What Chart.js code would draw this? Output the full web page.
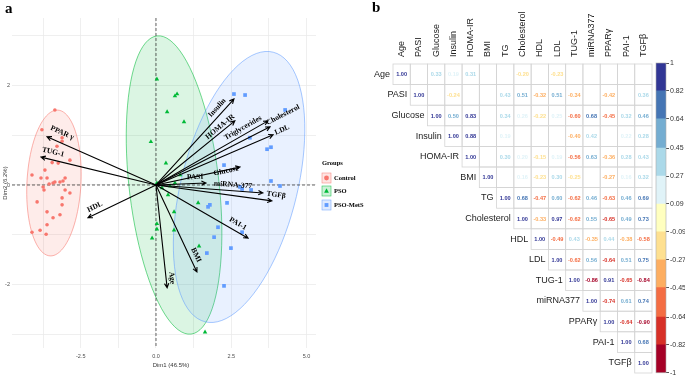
<!DOCTYPE html>
<html>
<head>
<meta charset="utf-8">
<script src="https://cdn.jsdelivr.net/npm/chart.js@4.4.0/dist/chart.umd.min.js"></script>
<style>
  body { margin: 0; background: #fff; }
  #wrap { position: relative; width: 685px; height: 378px; overflow: hidden; }
  canvas { position: absolute; top: 0; }
</style>
</head>
<body>
<div id="wrap">
  <canvas id="biplot" width="380" height="378" style="left:0"></canvas>
  <canvas id="corr" width="335" height="378" style="left:350px"></canvas>
  <canvas id="scale" width="40" height="378" style="left:645px"></canvas>
</div>
<script>
// ---- panel a: PCA biplot ----
const groupNames = ['Control', 'PSO', 'PSO-MetS'];
const groupColors = ['#F8766D', '#00BA38', '#619CFF'];

const controlX = [-3.36, -3.79, -3.12, -3.29, -2.86, -3.69, -4.12, -3.82, -3.62, -3.42, -3.36, -3.19, -3.09, -3.02, -3.75, -3.72, -3.02, -2.86, -3.12, -3.95, -3.12, -3.62, -3.19, -3.42, -3.62, -4.12, -3.85, -3.65, -3.55, -3.25, -3.12, -3.45];
const controlY = [1.51, 1.11, 0.95, 0.78, 0.50, 0.30, 0.20, 0.14, 0.14, 0.04, 0.06, 0.06, 0.08, 0.14, -0.04, -0.10, -0.10, -0.16, -0.26, -0.34, -0.40, -0.54, -0.60, -0.66, -0.80, -0.95, -0.91, -0.99, 0.02, 0.44, 0.88, 0.45];

const psoX = [0.03, 0.63, 0.70, 0.37, 0.93, -0.17, 0.33, 0.80, 0.63, 0.03, 0.40, 0.60, 1.40, 0.03, 0.03, -0.13, 0.60, 1.43, 1.63, 0.20, 0.47];
const psoY = [2.13, 1.79, 1.83, 1.47, 1.27, 0.87, 0.44, 0.20, 0.04, 0.04, -0.20, -0.54, -0.36, -0.78, -0.89, -1.07, -0.91, -1.23, -2.96, -0.06, -0.02];

const metsX = [2.59, 2.96, 4.29, 3.12, 3.69, 3.82, 2.26, 3.82, 4.12, 2.79, 2.86, 3.16, 2.36, 1.79, 1.73, 2.06, 1.93, 2.86, 2.49, 1.69, 2.26];
const metsY = [1.83, 1.81, 1.51, 0.95, 0.72, 0.76, 0.40, 0.08, -0.02, -0.04, -0.08, -0.10, -0.36, -0.40, -0.44, -0.85, -1.05, -0.95, -1.27, -1.37, -2.03];

// confidence ellipses: centre and two conjugate half-axes (data units)
const ellipseCenter = [[-3.39, 0.04], [0.60, 0.00], [2.76, -0.04]];
const ellipseAxisA = [[0.127, 1.467], [-0.565, 3.00], [1.133, 2.712]];
const ellipseAxisB = [[0.896, -0.028], [1.485, 0.103], [1.867, -0.286]];

// variable loadings (arrow tips) and where their labels sit
const loadNames = ['PPAR γ', 'TUG-1', 'HDL', 'Insulin', 'HOMA-IR', 'Triglycerides', 'Cholesterol', 'LDL', 'Glucose', 'PASI', 'miRNA-377', 'TGFβ', 'PAI-1', 'BMI', 'Age'];
const loadX = [-3.62, -3.82, -2.26, 2.59, 2.62, 3.72, 3.79, 3.89, 2.79, 1.66, 3.55, 3.85, 3.06, 1.36, 0.37];
const loadY = [0.97, 0.56, -0.66, 1.73, 1.29, 1.29, 1.17, 1.01, 0.36, 0.04, -0.16, -0.32, -1.07, -1.75, -2.07];
const labelX = [-3.12, -3.42, -2.03, 2.03, 2.13, 2.89, 4.22, 4.19, 2.33, 1.30, 2.56, 3.99, 2.72, 1.33, 0.53];
const labelY = [1.05, 0.66, -0.44, 1.55, 1.17, 1.15, 1.41, 1.11, 0.28, 0.16, 0.00, -0.20, -0.78, -1.41, -1.87];

const xGrid = [-3.75, -2.5, -1.25, 0, 1.25, 2.5, 3.75, 5];
const yGrid = [-3, -2, -1, 0, 1, 2, 3];
const xTickLabels = ['-2.5', '0.0', '2.5', '5.0'];
const xTickValues = [-2.5, 0, 2.5, 5];
const yTickLabels = ['2', '0', '-2'];
const yTickValues = [2, 0, -2];

// ---- panel b: correlation matrix ----
const vars = ['Age', 'PASI', 'Glucose', 'Insulin', 'HOMA-IR', 'BMI', 'TG', 'Cholesterol', 'HDL', 'LDL', 'TUG-1', 'miRNA377', 'PPARγ', 'PAI-1', 'TGFβ'];
// each row starts at the diagonal; null = blank cell
const corAge = [1.00, null, 0.33, 0.19, 0.31, null, null, -0.20, null, -0.23, null, null, null, null, null];
const corPASI = [1.00, null, -0.24, null, null, 0.43, 0.51, -0.32, 0.51, -0.34, null, -0.42, null, 0.36];
const corGlucose = [1.00, 0.50, 0.83, null, 0.34, 0.26, -0.22, 0.25, -0.60, 0.68, -0.45, 0.32, 0.46];
const corInsulin = [1.00, 0.88, null, 0.19, null, null, null, -0.40, 0.42, null, 0.22, 0.28];
const corHOMA = [1.00, null, 0.30, 0.20, -0.15, 0.19, -0.56, 0.63, -0.36, 0.28, 0.43];
const corBMI = [1.00, null, 0.16, -0.23, 0.30, -0.25, null, -0.27, 0.16, 0.32];
const corTG = [1.00, 0.68, -0.47, 0.60, -0.62, 0.46, -0.63, 0.46, 0.69];
const corChol = [1.00, -0.33, 0.97, -0.62, 0.55, -0.65, 0.49, 0.73];
const corHDL = [1.00, -0.49, 0.43, -0.35, 0.44, -0.38, -0.58];
const corLDL = [1.00, -0.62, 0.56, -0.64, 0.51, 0.75];
const corTUG = [1.00, -0.86, 0.91, -0.65, -0.84];
const corMiR = [1.00, -0.74, 0.61, 0.74];
const corPPAR = [1.00, -0.64, -0.90];
const corPAI = [1.00, 0.68];
const corTGF = [1.00];
const corRows = [corAge, corPASI, corGlucose, corInsulin, corHOMA, corBMI, corTG, corChol, corHDL, corLDL, corTUG, corMiR, corPPAR, corPAI, corTGF];

const breaks = [-1, -0.82, -0.64, -0.45, -0.27, -0.09, 0.09, 0.27, 0.45, 0.64, 0.82, 1];
const bandColors = ['#a50026', '#d73027', '#f46d43', '#fdae61', '#fee090', '#ffffbf', '#e0f3f8', '#abd9e9', '#74add1', '#4575b4', '#313695'];

function colorFor(v) {
  let k = 0;
  while (k < bandColors.length - 1 && v > breaks[k + 1]) k++;
  return bandColors[k];
}

function alpha(hex, a) {
  const n = parseInt(hex.slice(1), 16);
  return `rgba(${n >> 16},${(n >> 8) & 255},${n & 255},${a})`;
}

const serif = '"Liberation Serif", "DejaVu Serif", serif';
const sans = '"Liberation Sans", Arial, sans-serif';

function toPoints(xs, ys) { return xs.map((v, i) => ({x: v, y: ys[i]})); }

function drawMarker(ctx, k, x, y, r) {
  ctx.fillStyle = groupColors[k];
  ctx.beginPath();
  if (k === 0) ctx.arc(x, y, r, 0, Math.PI * 2);
  else if (k === 1) { ctx.moveTo(x, y - r * 1.1); ctx.lineTo(x + r, y + r * 0.7); ctx.lineTo(x - r, y + r * 0.7); ctx.closePath(); }
  else ctx.rect(x - r * 0.8, y - r * 0.8, r * 1.6, r * 1.6);
  ctx.fill();
}

const biplotDecor = {
  id: 'biplotDecor',
  beforeDatasetsDraw(chart) {
    const {ctx, scales: {x, y}, chartArea: a} = chart;
    ctx.save();
    groupNames.forEach((g, k) => {
      const [cx, cy] = ellipseCenter[k], [ux, uy] = ellipseAxisA[k], [vx, vy] = ellipseAxisB[k];
      ctx.beginPath();
      for (let s = 0; s <= 90; s++) {
        const t = s / 90 * Math.PI * 2;
        const px = x.getPixelForValue(cx + ux * Math.cos(t) + vx * Math.sin(t));
        const py = y.getPixelForValue(cy + uy * Math.cos(t) + vy * Math.sin(t));
        if (s) ctx.lineTo(px, py); else ctx.moveTo(px, py);
      }
      ctx.fillStyle = alpha(groupColors[k], 0.14);
      ctx.fill();
      ctx.strokeStyle = alpha(groupColors[k], 0.8);
      ctx.lineWidth = 0.7;
      ctx.stroke();
    });
    // zero lines
    ctx.setLineDash([3, 2]);
    ctx.strokeStyle = '#222';
    ctx.lineWidth = 0.7;
    const x0 = x.getPixelForValue(0), y0 = y.getPixelForValue(0);
    ctx.beginPath();
    ctx.moveTo(x0, a.top); ctx.lineTo(x0, a.bottom);
    ctx.moveTo(a.left, y0); ctx.lineTo(a.right, y0);
    ctx.stroke();
    ctx.restore();
  },
  afterDatasetsDraw(chart) {
    const {ctx, scales: {x, y}} = chart;
    const ox = x.getPixelForValue(0), oy = y.getPixelForValue(0);
    ctx.save();
    ctx.strokeStyle = '#000';
    ctx.fillStyle = '#000';
    ctx.lineWidth = 1.1;
    loadNames.forEach((name, i) => {
      const tx = x.getPixelForValue(loadX[i]), ty = y.getPixelForValue(loadY[i]);
      const ang = Math.atan2(ty - oy, tx - ox);
      ctx.beginPath();
      ctx.moveTo(ox, oy); ctx.lineTo(tx, ty);
      ctx.moveTo(tx - 5 * Math.cos(ang - 0.45), ty - 5 * Math.sin(ang - 0.45));
      ctx.lineTo(tx, ty);
      ctx.lineTo(tx - 5 * Math.cos(ang + 0.45), ty - 5 * Math.sin(ang + 0.45));
      ctx.stroke();
      let rot = ang;
      if (Math.cos(ang) < 0) rot += Math.PI;
      ctx.save();
      ctx.translate(x.getPixelForValue(labelX[i]), y.getPixelForValue(labelY[i]));
      ctx.rotate(rot);
      ctx.font = `bold 7.5px ${serif}`;
      ctx.textAlign = 'center';
      ctx.textBaseline = 'middle';
      ctx.fillText(name, 0, 0);
      ctx.restore();
    });
    ctx.restore();
  },
  afterDraw(chart) {
    const {ctx, scales: {x, y}, chartArea: a} = chart;
    ctx.save();
    ctx.fillStyle = '#000';
    ctx.font = `bold 15px ${serif}`;
    ctx.textAlign = 'left';
    ctx.textBaseline = 'alphabetic';
    ctx.fillText('a', 5, 13);

    ctx.fillStyle = '#4d4d4d';
    ctx.font = `5.5px ${sans}`;
    ctx.textAlign = 'center';
    ctx.textBaseline = 'top';
    xTickValues.forEach((v, i) => ctx.fillText(xTickLabels[i], x.getPixelForValue(v), a.bottom + 6));
    ctx.textAlign = 'right';
    ctx.textBaseline = 'middle';
    yTickValues.forEach((v, i) => ctx.fillText(yTickLabels[i], a.left - 2, y.getPixelForValue(v)));

    ctx.fillStyle = '#333';
    ctx.font = `6px ${sans}`;
    ctx.textAlign = 'center';
    ctx.textBaseline = 'top';
    ctx.fillText('Dim1 (46.5%)', (a.left + a.right) / 2 + 7, a.bottom + 14);
    ctx.save();
    ctx.translate(5, 183);
    ctx.rotate(-Math.PI / 2);
    ctx.textBaseline = 'middle';
    ctx.fillText('Dim2 (6.2%)', 0, 0);
    ctx.restore();

    // legend
    ctx.fillStyle = '#000';
    ctx.font = `bold 6.5px ${serif}`;
    ctx.textAlign = 'left';
    ctx.textBaseline = 'middle';
    ctx.fillText('Groups', 322, 163);
    const keyY = [178, 191, 205];
    groupNames.forEach((g, k) => {
      ctx.fillStyle = alpha(groupColors[k], 0.2);
      ctx.strokeStyle = alpha(groupColors[k], 0.8);
      ctx.lineWidth = 0.6;
      ctx.fillRect(322, keyY[k] - 5, 9, 10);
      ctx.strokeRect(322, keyY[k] - 5, 9, 10);
      drawMarker(ctx, k, 326.5, keyY[k], 2.4);
      ctx.fillStyle = '#000';
      ctx.fillText(g, 334, keyY[k]);
    });
    ctx.restore();
  }
};

new Chart(document.getElementById('biplot'), {
  type: 'scatter',
  data: {
    datasets: [
      {label: 'Control', data: toPoints(controlX, controlY), pointStyle: 'circle', pointRadius: 1.8, backgroundColor: groupColors[0], borderWidth: 0},
      {label: 'PSO', data: toPoints(psoX, psoY), pointStyle: 'triangle', pointRadius: 2.6, backgroundColor: groupColors[1], borderWidth: 0},
      {label: 'PSO-MetS', data: toPoints(metsX, metsY), pointStyle: 'rect', pointRadius: 2.6, backgroundColor: groupColors[2], borderWidth: 0}
    ]
  },
  options: {
    responsive: false,
    animation: false,
    devicePixelRatio: 1,
    layout: {padding: {left: 12, right: 64, top: 18, bottom: 30}},
    plugins: {legend: {display: false}, tooltip: {enabled: false}},
    scales: {
      x: {
        type: 'linear', min: -4.784, max: 5.316,
        afterBuildTicks: s => { s.ticks = xGrid.map(v => ({value: v})); },
        ticks: {display: false},
        grid: {color: '#ebebeb', lineWidth: 0.8, drawTicks: false},
        border: {display: false}
      },
      y: {
        type: 'linear', min: -3.28, max: 3.36,
        afterBuildTicks: s => { s.ticks = yGrid.map(v => ({value: v})); },
        ticks: {display: false},
        grid: {color: '#ebebeb', lineWidth: 0.8, drawTicks: false},
        border: {display: false}
      }
    }
  },
  plugins: [biplotDecor]
});

// ---- panel b ----
const cells = [];
corRows.forEach((row, i) => row.forEach((v, k) => cells.push({x: vars[i + k], y: vars[i], v: v})));

const corrDecor = {
  id: 'corrDecor',
  afterDatasetsDraw(chart) {
    const {ctx, scales: {x, y}, chartArea: a} = chart;
    const cw = a.width / vars.length, ch = a.height / vars.length;
    const meta = chart.getDatasetMeta(0);
    ctx.save();
    ctx.strokeStyle = '#d4d4d4';
    ctx.lineWidth = 0.8;
    meta.data.forEach((el, n) => {
      ctx.strokeRect(el.x - cw / 2, el.y - ch / 2, cw, ch);
    });
    ctx.font = `bold 5.6px ${sans}`;
    ctx.textAlign = 'center';
    ctx.textBaseline = 'middle';
    meta.data.forEach((el, n) => {
      const v = cells[n].v;
      if (v === null) return;
      ctx.fillStyle = colorFor(v);
      ctx.fillText(v.toFixed(2), el.x, el.y + 0.5);
    });
    // row labels next to the diagonal, column labels on top
    ctx.fillStyle = '#222';
    ctx.font = `9px ${sans}`;
    ctx.textAlign = 'right';
    vars.forEach((name, i) => {
      ctx.fillText(name, x.getPixelForValue(i) - cw / 2 - 3, y.getPixelForValue(i));
    });
    ctx.textAlign = 'left';
    vars.forEach((name, j) => {
      ctx.save();
      ctx.translate(x.getPixelForValue(j), a.top - 7);
      ctx.rotate(-Math.PI / 2);
      ctx.fillText(name, 0, 0);
      ctx.restore();
    });
    ctx.fillStyle = '#000';
    ctx.font = `bold 15px ${serif}`;
    ctx.textBaseline = 'alphabetic';
    ctx.fillText('b', 22, 12);
    ctx.restore();
  }
};

new Chart(document.getElementById('corr'), {
  type: 'scatter',
  data: {datasets: [{data: cells, pointRadius: 0}]},
  options: {
    responsive: false,
    animation: false,
    devicePixelRatio: 1,
    layout: {padding: {left: 43, right: 33, top: 64, bottom: 5}},
    plugins: {legend: {display: false}, tooltip: {enabled: false}},
    scales: {
      x: {type: 'category', labels: vars, offset: true, display: false},
      y: {type: 'category', labels: vars, offset: true, display: false}
    }
  },
  plugins: [corrDecor]
});

// colour key
const keyBorder = {
  id: 'keyBorder',
  afterDatasetsDraw(chart) {
    const {ctx, chartArea: a} = chart;
    ctx.save();
    ctx.strokeStyle = '#aaa';
    ctx.lineWidth = 0.6;
    ctx.strokeRect(a.left, a.top, a.width, a.height);
    ctx.restore();
  }
};

new Chart(document.getElementById('scale'), {
  type: 'bar',
  data: {
    labels: [''],
    datasets: bandColors.map((c, k) => ({
      data: [[breaks[k], breaks[k + 1]]],
      backgroundColor: c,
      grouped: false,
      barPercentage: 1,
      categoryPercentage: 1,
      borderWidth: 0
    }))
  },
  options: {
    responsive: false,
    animation: false,
    devicePixelRatio: 1,
    layout: {padding: {left: 11, right: 0, top: 63, bottom: 5}},
    plugins: {legend: {display: false}, tooltip: {enabled: false}},
    scales: {
      x: {display: false},
      y: {
        position: 'right', min: -1, max: 1,
        afterBuildTicks: s => { s.ticks = breaks.map(v => ({value: v})); },
        afterFit: s => { s.width = 19; },
        ticks: {font: {size: 7, family: sans}, color: '#333', padding: 1, callback: v => String(v)},
        grid: {drawOnChartArea: false, tickLength: 3, color: '#555'},
        border: {display: false}
      }
    }
  },
  plugins: [keyBorder]
});
</script>
</body>
</html>
